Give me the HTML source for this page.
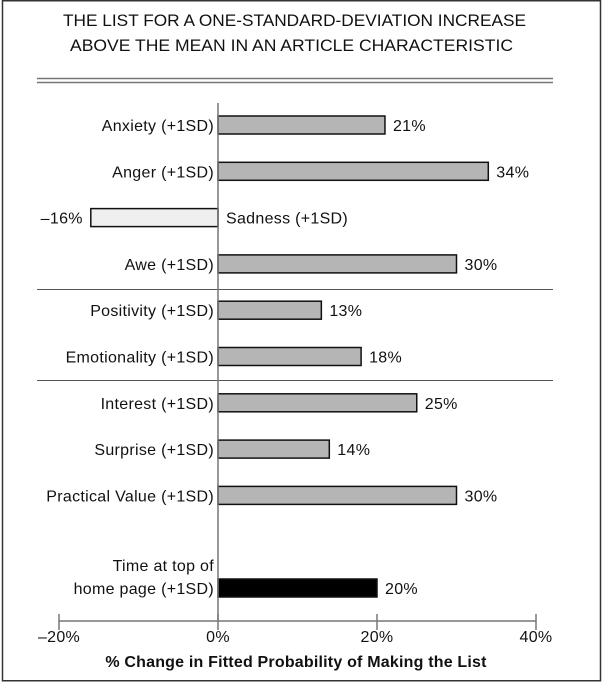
<!DOCTYPE html>
<html><head><meta charset="utf-8"><style>
html,body{margin:0;padding:0;background:#fff}
svg{display:block;font-family:"Liberation Sans",Arial,sans-serif}
.lab{font-size:16px;letter-spacing:0.3px}
</style></head><body>
<svg id="chart" width="603" height="683" viewBox="0 0 603 683">
<rect x="2.5" y="0.75" width="598" height="680" fill="#fff" stroke="#333" stroke-width="1.5"/>
<text x="63" y="26" font-size="17" textLength="463" lengthAdjust="spacingAndGlyphs" fill="#111">THE LIST FOR A ONE-STANDARD-DEVIATION INCREASE</text>
<text x="70" y="51" font-size="17" textLength="443" lengthAdjust="spacingAndGlyphs" fill="#111">ABOVE THE MEAN IN AN ARTICLE CHARACTERISTIC</text>
<line x1="37" y1="78.5" x2="553" y2="78.5" stroke="#777" stroke-width="1.5"/>
<line x1="37" y1="82.5" x2="553" y2="82.5" stroke="#777" stroke-width="1.5"/>
<g id="plot"></g>
</svg>
<script>
const categories=["Anxiety (+1SD)","Anger (+1SD)","Sadness (+1SD)","Awe (+1SD)","Positivity (+1SD)","Emotionality (+1SD)","Interest (+1SD)","Surprise (+1SD)","Practical Value (+1SD)","Time at top of|home page (+1SD)"];
const values=[21,34,-16,30,13,18,25,14,30,20];
const valueLabels=["21%","34%","\u201316%","30%","13%","18%","25%","14%","30%","20%"];
const ticks=[-20,0,20,40];
const tickLabels=["\u201320%","0%","20%","40%"];
const rowSlots=[0,1,2,3,4,5,6,7,8,10];

const NS="http://www.w3.org/2000/svg";
const g=document.getElementById("plot");
function x(v){return 218+v*7.95;}
function y(slot){return 125+slot*46.3;}
function mk(tag,attrs,parent){const e=document.createElementNS(NS,tag);for(const k in attrs)e.setAttribute(k,attrs[k]);(parent||g).appendChild(e);return e;}

let s1=mk("line",{x1:37,y1:289.5,x2:553,y2:289.5,stroke:"#555","stroke-width":1});


let s2=mk("line",{x1:37,y1:380.5,x2:553,y2:380.5,stroke:"#555","stroke-width":1});



categories.forEach((c,i)=>{
  const v=values[i], cy=y(rowSlots[i]);
  const x0=x(Math.min(0,v)), w=Math.abs(x(v)-x(0));
  const fill=i===9?"#000":(v<0?"#efefef":"#b5b5b5");
  const b=mk("rect",{x:x0,y:cy-9,width:w,height:18,fill:fill,stroke:"#111","stroke-width":1.5});
  
  
  const vl=mk("text",{"class":"lab",fill:"#111",y:cy+6});
  vl.textContent=valueLabels[i];
  if(v<0){vl.setAttribute("x",x(v)-8);vl.setAttribute("text-anchor","end");}
  else{vl.setAttribute("x",x(v)+8);}
  
  
  const parts=c.split("|");
  parts.forEach((p,k)=>{
    const t=mk("text",{"class":"lab",fill:"#111",y:cy+6-(parts.length-1-k)*23});
    t.textContent=p;
    if(v<0){t.setAttribute("x",x(0)+8);}
    else{t.setAttribute("x",x(0)-4);t.setAttribute("text-anchor","end");}
    
    
  });
});

const zl=mk("line",{x1:x(0),y1:103,x2:x(0),y2:621,stroke:"#777","stroke-width":1.5});


const ax=mk("line",{x1:x(ticks[0]),y1:621,x2:x(ticks[ticks.length-1]),y2:621,stroke:"#777","stroke-width":1.5});


ticks.forEach((t,i)=>{
  const tk=mk("line",{x1:x(t),y1:614,x2:x(t),y2:630,stroke:"#777","stroke-width":1.5});
  
  
  const tl=mk("text",{x:x(t),y:642,"class":"lab","text-anchor":"middle",fill:"#111"});
  tl.textContent=tickLabels[i];
  
  
});
const at=mk("text",{x:296,y:667,"font-size":16,"font-weight":"bold","letter-spacing":"0.2","text-anchor":"middle",fill:"#111"});
at.textContent="% Change in Fitted Probability of Making the List";


</script>
</body></html>
